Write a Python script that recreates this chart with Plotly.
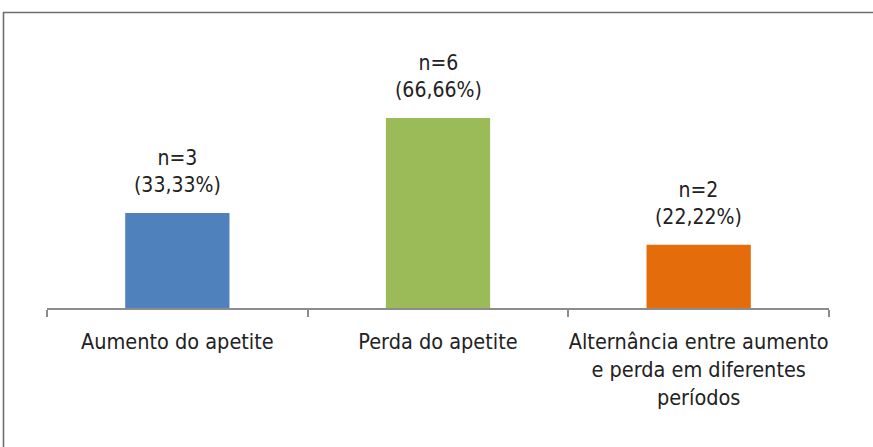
import plotly.graph_objects as go

categories = ["Aumento do apetite", "Perda do apetite",
              "Alternância entre aumento<br>e perda em diferentes<br>períodos"]
values = [3, 6, 2]
labels = ["n=3<br>(33,33%)", "n=6<br>(66,66%)", "n=2<br>(22,22%)"]
colors = ["#4f81bd", "#9bbb59", "#e46c0a"]

FONT = "Liberation Sans Narrow, DejaVu Sans Condensed, Roboto, sans-serif"
W, H = 873, 447
L, R, T, B = 47, 44, 40, 139
plot_h = H - T - B
ymax = plot_h / 31.67

fig = go.Figure(go.Bar(x=categories, y=values, marker_color=colors, width=0.4,
                       marker_line_width=0))

for c, v, t in zip(categories, values, labels):
    fig.add_annotation(x=c, y=v, text=t, showarrow=False, yanchor="bottom",
                       yshift=14, font=dict(family=FONT, size=21, color="#222222"))

plot_w = W - L - R
fig.add_shape(type="rect", xref="paper", yref="paper",
              x0=(3.5 - L) / plot_w, x1=1.3,
              y0=-1.0, y1=(H - B - 12.5) / plot_h,
              line=dict(color="#6e6e6e", width=1.6), layer="below")

fig.update_layout(
    width=W, height=H, margin=dict(l=L, r=R, t=T, b=B, autoexpand=False),
    paper_bgcolor="white", plot_bgcolor="white", showlegend=False,
    xaxis=dict(type="category", categoryorder="array", categoryarray=categories,
               range=[-0.5, 2.5], showline=True, linecolor="#8c8c8c", linewidth=2,
               ticks="outside", tickson="boundaries", ticklen=7, tickcolor="#8c8c8c",
               tickwidth=1.5, showgrid=False, zeroline=False, ticklabelstandoff=13,
               tickangle=0, automargin=False,
               tickfont=dict(family=FONT, size=21.5, color="#222222")),
    yaxis=dict(range=[0, ymax], visible=False, automargin=False),
)

fig.write_html("out.html")
